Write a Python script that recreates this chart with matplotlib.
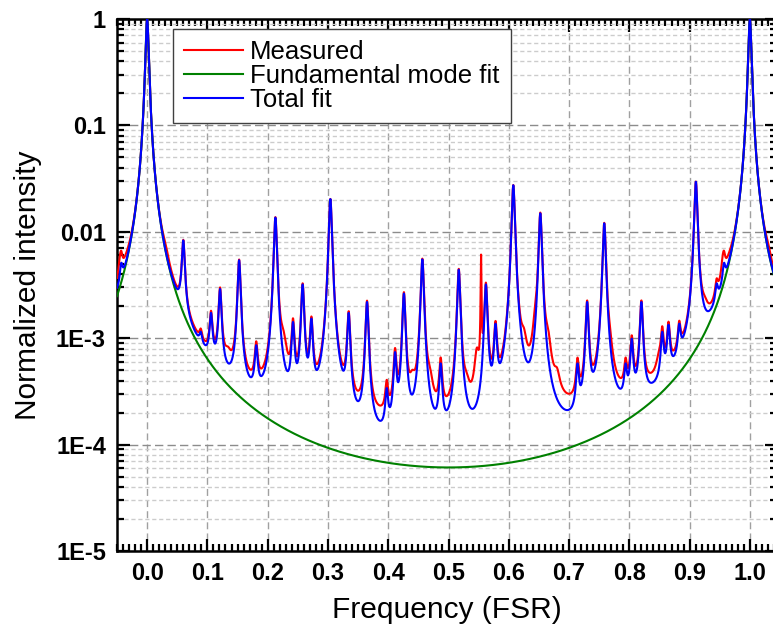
import numpy as np
import matplotlib
matplotlib.use("Agg")
import matplotlib.pyplot as plt
from matplotlib.ticker import FixedLocator, FuncFormatter, MultipleLocator

plt.rcParams['font.family'] = ['Liberation Sans', 'DejaVu Sans']

# fundamental mode (Airy) coefficient, read from the minimum at 0.5 FSR (~6e-5)
fund_coef = 16400.0

# higher-order mode peaks of the total fit: position (FSR) and peak height
peak_pos = [0.060, 0.089, 0.106, 0.121, 0.1526, 0.181, 0.2128, 0.242, 0.258,
            0.2725, 0.304, 0.3344, 0.3648, 0.3975, 0.4113, 0.426, 0.4566,
            0.487, 0.517, 0.562, 0.578, 0.6075, 0.6523, 0.714, 0.730, 0.7584,
            0.7938, 0.804, 0.820, 0.8546, 0.865, 0.8828, 0.9104, 0.9448, 0.957]
peak_val = [8.3e-3, 1.15e-3, 1.73e-3, 2.9e-3, 5.4e-3, 8.6e-4, 1.36e-2, 1.42e-3,
            3.2e-3, 1.53e-3, 2.03e-2, 1.73e-3, 2.19e-3, 3.4e-4, 7.4e-4, 2.63e-3,
            5.5e-3, 5.8e-4, 4.4e-3, 3.2e-3, 1.37e-3, 2.74e-2, 1.49e-2, 5.8e-4,
            2.19e-3, 1.2e-2, 5.8e-4, 9.9e-4, 2.19e-3, 1.15e-3, 1.34e-3, 1.37e-3,
            2.95e-2, 3.27e-3, 5.1e-3]

# measured data: background above the fit plus features not in the fit
meas_bg = 6e-5
meas_pos = [-0.045, -0.035, 0.134, 0.226, 0.440, 0.469, 0.530, 0.547, 0.554,
            0.625, 0.644, 0.665, 0.680, 0.767, 0.849, 0.925, 1.030]
meas_amp = [1.4e-3, 8e-4, 1.8e-4, 4.5e-4, 1.4e-4, 1.5e-4, 1.0e-4, 4.5e-4, 5.5e-3,
            4e-4, 6e-4, 4.5e-4, 1.4e-4, 2.8e-4, 1.6e-4, 4e-4, 1e-3]
meas_hw = [0.003, 0.010, 0.006, 0.006, 0.005, 0.005, 0.005, 0.004, 0.0006,
           0.005, 0.004, 0.005, 0.005, 0.005, 0.005, 0.006, 0.006]

ytick_vals = [1e-5, 1e-4, 1e-3, 1e-2, 1e-1, 1]
ytick_text = ['1E-5', '1E-4', '1E-3', '0.01', '0.1', '1']


def airy(dx, coef):
    return 1.0 / (1.0 + coef * np.sin(np.pi * dx) ** 2)


x = np.linspace(-0.05, 1.046, 8001)
fund = airy(x, fund_coef)

pp = np.array(peak_pos)
pv = np.array(peak_val)
mat = airy(pp[:, None] - pp[None, :], fund_coef)
amps = np.linalg.solve(mat, pv - airy(pp, fund_coef))
amps = np.clip(amps, 1e-6, None)
total = fund + (amps[None, :] * airy(x[:, None] - pp[None, :], fund_coef)).sum(axis=1)

meas = total + meas_bg
for p, a, w in zip(meas_pos, meas_amp, meas_hw):
    meas = meas + a * airy(x - p, 1.0 / np.sin(np.pi * w) ** 2)

fig = plt.figure(figsize=(7.73, 6.39), dpi=100)
# right spine falls just outside the picture, as in the reference
ax = fig.add_axes([117 / 773, 88 / 639, 660 / 773, 532 / 639])

ax.plot(x, meas, color='#ff0000', lw=1.5, label='Measured', zorder=3)
ax.plot(x, fund, color='#008000', lw=1.5, label='Fundamental mode fit', zorder=4)
ax.plot(x, total, color='#0000ff', lw=1.5, label='Total fit', zorder=5)

ax.set_yscale('log')
ax.set_xlim(-0.05, 1.045)
ax.set_ylim(1e-5, 1)

ax.xaxis.set_major_locator(MultipleLocator(0.1))
ax.xaxis.set_minor_locator(MultipleLocator(0.01))
ax.xaxis.set_major_formatter(FuncFormatter(lambda v, _: f'{v:.1f}'))
ax.yaxis.set_major_locator(FixedLocator(ytick_vals))
ax.yaxis.set_major_formatter(FuncFormatter(
    lambda v, _: ytick_text[ytick_vals.index(min(ytick_vals, key=lambda t: abs(np.log10(t) - np.log10(v))))]))

ax.tick_params(which='both', direction='in', top=True, right=True, width=1.6)
ax.tick_params(which='major', length=9, labelsize=17, pad=8)
ax.tick_params(which='minor', length=5)
for lab in ax.get_xticklabels() + ax.get_yticklabels():
    lab.set_fontweight('bold')
for s in ax.spines.values():
    s.set_linewidth(1.8)

ax.grid(which='major', axis='x', ls=(0, (5, 3)), color='#a0a0a0', lw=1.0)
ax.grid(which='major', axis='y', ls=(0, (6, 3)), color='#8c8c8c', lw=1.0)
ax.grid(which='minor', axis='y', ls=(0, (3, 2)), color='#cccccc', lw=1.0)
ax.set_axisbelow(True)

ax.set_xlabel('Frequency (FSR)', fontsize=21.5)
ax.set_ylabel('Normalized intensity', fontsize=21.5)
ax.xaxis.set_label_coords(0.5, -0.084)
ax.yaxis.set_label_coords(-0.114, 0.5)

leg = ax.legend(loc='upper left', bbox_to_anchor=(0.0845, 0.981), borderaxespad=0,
                fontsize=18.5, handlelength=2.3, handletextpad=0.3, labelspacing=0.0,
                borderpad=0.42, fancybox=False, framealpha=1)
leg.get_frame().set_edgecolor('#404040')
leg.get_frame().set_linewidth(1.0)

fig.savefig('out.png', dpi=100)
